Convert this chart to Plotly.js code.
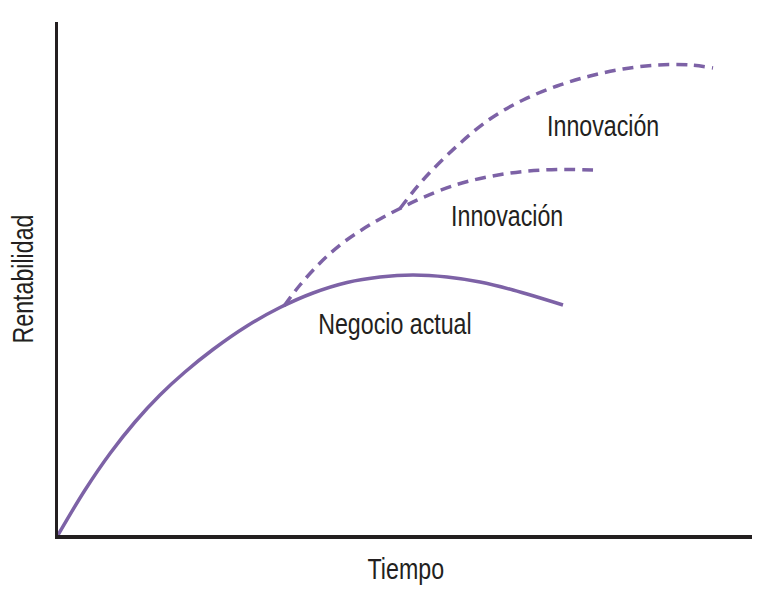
<!DOCTYPE html>
<html>
<head>
<meta charset="utf-8">
<script src="https://cdn.plot.ly/plotly-3.0.1.min.js"></script>
<style>
html,body{margin:0;padding:0;background:#fff;}
#chart{width:769px;height:593px;}
#chart .annotation-text{transform-box:fill-box;transform-origin:center;transform:scaleX(0.8);}
</style>
</head>
<body>
<div id="chart"></div>
<script>
// Negocio actual (solid)
const actualX = [0, 3.86, 7.43, 11.0, 14.57, 18.14, 22.14, 27.0, 31.71, 36.43, 41.29, 46.0, 50.71, 55.57, 60.29, 65.0, 72.14];
const actualY = [0, 9.0, 16.3, 22.6, 28.0, 32.6, 37.1, 41.8, 45.5, 48.4, 50.5, 51.6, 52.0, 51.6, 50.6, 49.0, 46.0];
// Innovación 1 (dashed, lower)
const innov1X = [32.29, 34.57, 37.43, 40.29, 43.14, 46.0, 48.86, 52.14, 57.0, 61.71, 66.43, 71.29, 76.43];
const innov1Y = [45.8, 50.0, 54.4, 58.0, 60.8, 63.2, 65.3, 67.5, 70.1, 71.7, 72.7, 73.1, 73.0];
// Innovación 2 (dashed, upper)
const innov2X = [48.86, 52.14, 57.0, 61.71, 66.43, 71.29, 76.0, 80.71, 85.57, 90.29, 93.57];
const innov2Y = [65.3, 71.0, 77.8, 83.2, 87.0, 89.8, 91.8, 93.2, 94.0, 94.0, 93.4];
// Curve labels (data coordinates)
const labelText = ["Innovación", "Innovación", "Negocio actual"];
const labelX = [77.9, 64.1, 48.2];
const labelY = [81.8, 63.8, 42.2];
const xTitle = "Tiempo";
const yTitle = "Rentabilidad";

const purple = "#7d62a6";
const ink = "#231f20";
const fontFam = "'Liberation Sans', Arial, sans-serif";
const fsize = 29;

const traces = [
  {x: actualX, y: actualY, mode: "lines", line: {color: purple, width: 3.5, shape: "spline"}, hoverinfo: "skip"},
  {x: innov1X, y: innov1Y, mode: "lines", line: {color: purple, width: 3.5, shape: "spline", dash: "11px,7px"}, hoverinfo: "skip"},
  {x: innov2X, y: innov2Y, mode: "lines", line: {color: purple, width: 3.5, shape: "spline", dash: "11px,7px"}, hoverinfo: "skip"}
];

const annotations = labelText.map((t, i) => ({
  x: labelX[i], y: labelY[i], xref: "x", yref: "y", text: t, showarrow: false,
  font: {family: fontFam, size: fsize, color: ink}, xanchor: "center", yanchor: "middle"
}));
annotations.push({x: 0.501, y: -0.066, xref: "paper", yref: "paper", text: xTitle, showarrow: false,
  font: {family: fontFam, size: fsize, color: ink}, xanchor: "center", yanchor: "middle"});
annotations.push({x: -0.051, y: 0.499, xref: "paper", yref: "paper", text: yTitle, showarrow: false, textangle: -90,
  font: {family: fontFam, size: fsize, color: ink}, xanchor: "center", yanchor: "middle"});

const layout = {
  width: 769, height: 593,
  margin: {l: 58, r: 17, t: 22, b: 58},
  paper_bgcolor: "#fff", plot_bgcolor: "#fff",
  showlegend: false,
  xaxis: {range: [0, 99.14], showgrid: false, zeroline: false, showticklabels: false, ticks: "",
          showline: true, linecolor: ink, linewidth: 3.5},
  yaxis: {range: [0, 102.6], showgrid: false, zeroline: false, showticklabels: false, ticks: "",
          showline: true, linecolor: ink, linewidth: 3.5},
  annotations: annotations
};

Plotly.newPlot("chart", traces, layout, {displayModeBar: false, staticPlot: true});
</script>
</body>
</html>
